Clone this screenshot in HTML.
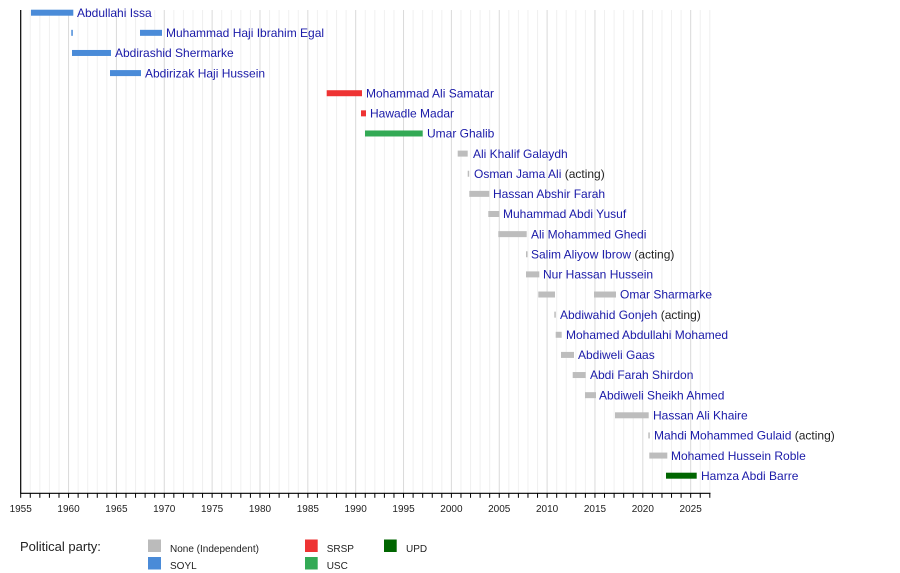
<!DOCTYPE html>
<html><head><meta charset="utf-8"><style>
html,body{margin:0;padding:0;background:#fff;}
svg{display:block;}
.lbl{font-family:"Liberation Sans",Arial,sans-serif;font-size:12px;fill:#1a1aa8;}
.act{fill:#222;}
.tk{font-family:"Liberation Sans",Arial,sans-serif;font-size:10px;fill:#222;text-anchor:middle;}
.lg{font-family:"Liberation Sans",Arial,sans-serif;font-size:10px;fill:#222;}
</style></head><body>
<svg width="900" height="573" viewBox="0 0 900 573" xmlns="http://www.w3.org/2000/svg">
<g id="grid"></g>
<g id="bars"></g>
<line x1="20.7" y1="10" x2="20.7" y2="493.3" stroke="#000" stroke-width="1.2"/>
<line x1="20.2" y1="493.3" x2="710.5" y2="493.3" stroke="#000" stroke-width="1.2"/>
<g id="ticks"></g>
<text x="20" y="551" font-family="Liberation Sans, Arial, sans-serif" font-size="13" fill="#222">Political party:</text>
<rect x="148" y="539.5" width="13" height="12.5" fill="#bbbbbb"/>
<text class="lg" x="170" y="552">None (Independent)</text>
<rect x="148" y="557" width="13" height="12.5" fill="#4a8bd8"/>
<text class="lg" x="170" y="569">SOYL</text>
<rect x="305" y="539.5" width="12.7" height="12.5" fill="#ee3333"/>
<text class="lg" x="326.7" y="552">SRSP</text>
<rect x="305" y="557" width="12.7" height="12.5" fill="#33aa55"/>
<text class="lg" x="326.7" y="569">USC</text>
<rect x="384" y="539.5" width="12.7" height="12.5" fill="#006600"/>
<text class="lg" x="406" y="552">UPD</text>
</svg>
<script>
(function(){
var NS="http://www.w3.org/2000/svg";
function el(n,a,t){var e=document.createElementNS(NS,n);for(var k in a)e.setAttribute(k,a[k]);if(t!==undefined)e.textContent=t;return e;}
var X=function(y){return 20.7+(y-1955)*9.571;};
var g=document.getElementById("grid"),tk=document.getElementById("ticks"),b=document.getElementById("bars");
for(var y=1956;y<=2027;y++){
 var x=X(y);var major=(y%5===0);
 g.appendChild(el("line",{x1:x,y1:10,x2:x,y2:493,stroke:major?"#dadada":"#f0f0f0","stroke-width":1}));
}
for(var y=1955;y<=2027;y++){
 var x=X(y);
 tk.appendChild(el("line",{x1:x,y1:493.3,x2:x,y2:497.8,stroke:"#000","stroke-width":1}));
 if(y%5===0)tk.appendChild(el("text",{x:x,y:512,"class":"tk"},String(y)));
}
var C={g:"#bdbdbd",b:"#4a8bd8",r:"#ee3333",u:"#33aa55",d:"#006600"};
var rows=[
 [[[31,73.3,"b"]],77,"Abdullahi Issa"],
 [[[71.3,72.8,"b"],[140,162,"b"]],166,"Muhammad Haji Ibrahim Egal"],
 [[[72,111,"b"]],115,"Abdirashid Shermarke"],
 [[[110,141,"b"]],145,"Abdirizak Haji Hussein"],
 [[[326.7,362,"r"]],366,"Mohammad Ali Samatar"],
 [[[361,366,"r"]],370,"Hawadle Madar"],
 [[[365,422.7,"u"]],427,"Umar Ghalib"],
 [[[457.7,467.7,"g"]],473,"Ali Khalif Galaydh"],
 [[[467.7,469.2,"g"]],474,"Osman Jama Ali",1],
 [[[469.3,489.3,"g"]],493,"Hassan Abshir Farah"],
 [[[488.3,499.3,"g"]],503,"Muhammad Abdi Yusuf"],
 [[[498.3,526.7,"g"]],531,"Ali Mohammed Ghedi"],
 [[[526,527.5,"g"]],531,"Salim Aliyow Ibrow",1],
 [[[526,539.3,"g"]],543,"Nur Hassan Hussein"],
 [[[538.3,555,"g"],[594,616,"g"]],620,"Omar Sharmarke"],
 [[[554.3,555.8,"g"]],560,"Abdiwahid Gonjeh",1],
 [[[555.7,561.7,"g"]],566,"Mohamed Abdullahi Mohamed"],
 [[[561,574,"g"]],578,"Abdiweli Gaas"],
 [[[572.7,585.7,"g"]],590,"Abdi Farah Shirdon"],
 [[[585,596,"g"]],599,"Abdiweli Sheikh Ahmed"],
 [[[615,648.7,"g"]],653,"Hassan Ali Khaire"],
 [[[648.3,649.8,"g"]],654,"Mahdi Mohammed Gulaid",1],
 [[[649.3,667.3,"g"]],671,"Mohamed Hussein Roble"],
 [[[666,696.7,"d"]],701,"Hamza Abdi Barre"]
];
rows.forEach(function(r,i){
 var cy=12.7+i*20.13;
 r[0].forEach(function(s){b.appendChild(el("rect",{x:s[0],y:cy-3,width:s[1]-s[0],height:6,fill:C[s[2]]}));});
 var t=el("text",{x:r[1],y:cy+4.2,"class":"lbl"});
 t.appendChild(el("tspan",{},r[2]));
 if(r[3]){t.appendChild(el("tspan",{"class":"act"}," (acting)"));}
 b.appendChild(t);
});
})();
</script>
</body></html>
